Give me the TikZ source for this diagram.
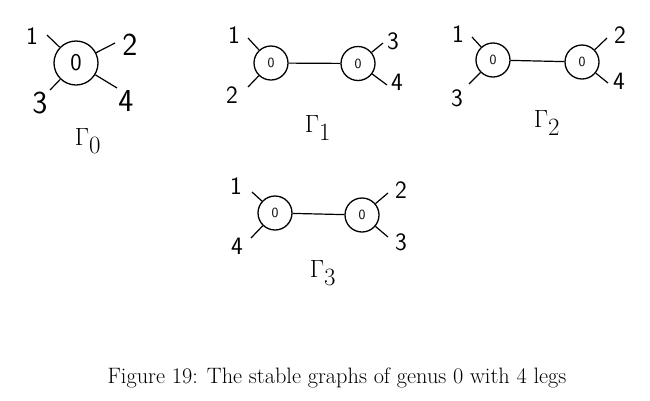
\documentclass[tikz,border=0pt]{standalone}
\usepackage{fontspec}
\begin{document}
\begin{tikzpicture}[x=1pt,y=-1pt,
  vtx/.style={draw,circle,line width=1.3pt,inner sep=0pt,minimum size=34pt,font=\sffamily\fontsize{14}{14}\selectfont},
  bigvtx/.style={vtx,minimum size=44pt,font=\sffamily\fontsize{24}{24}\selectfont},
  leg/.style={line width=1.2pt},
  lab/.style={font=\sffamily\fontsize{25}{25}\selectfont,inner sep=0pt},
  biglab/.style={font=\sffamily\fontsize{32}{32}\selectfont,inner sep=0pt},
  gam/.style={font=\fontsize{34}{34}\selectfont,inner sep=0pt}]
\useasboundingbox (0,0) rectangle (650,400);
% Gamma_0
\node[bigvtx] (g0) at (76,63) {0};
\coordinate (g0a) at (47,35); \coordinate (g0b) at (115,43);
\coordinate (g0c) at (50,90); \coordinate (g0d) at (117,88);
\draw[leg] (g0) -- (g0a); \draw[leg] (g0) -- (g0b);
\draw[leg] (g0) -- (g0c); \draw[leg] (g0) -- (g0d);
\node[lab] (g0l1) at (32,36) {1};
\node[biglab] (g0l2) at (130,45) {2};
\node[biglab] (g0l3) at (40,103) {3};
\node[biglab] (g0l4) at (126,101) {4};
\node[gam] (G0) at (88,141) {$\Gamma_0$};
% Gamma_1
\node[vtx] (g1a) at (271,63) {0};
\node[vtx] (g1b) at (358,63.5) {0};
\draw[leg] (g1a) -- (g1b);
\coordinate (g1e1) at (248,38); \coordinate (g1e2) at (248,87);
\coordinate (g1e3) at (383,43); \coordinate (g1e4) at (387,85);
\draw[leg] (g1a) -- (g1e1); \draw[leg] (g1a) -- (g1e2);
\draw[leg] (g1b) -- (g1e3); \draw[leg] (g1b) -- (g1e4);
\node[lab] (g1l1) at (234,35) {1};
\node[lab] (g1l2) at (232,95) {2};
\node[lab] (g1l3) at (393,41) {3};
\node[lab] (g1l4) at (397,82) {4};
\node[gam] (G1) at (318,128) {$\Gamma_1$};
% Gamma_2
\node[vtx] (g2a) at (493,60) {0};
\node[vtx] (g2b) at (582,62) {0};
\draw[leg] (g2a) -- (g2b);
\coordinate (g2e1) at (472,37); \coordinate (g2e3) at (469,84);
\coordinate (g2e2) at (607,38); \coordinate (g2e4) at (608,83);
\draw[leg] (g2a) -- (g2e1); \draw[leg] (g2a) -- (g2e3);
\draw[leg] (g2b) -- (g2e2); \draw[leg] (g2b) -- (g2e4);
\node[lab] (g2l1) at (458,34) {1};
\node[lab] (g2l3) at (457,98) {3};
\node[lab] (g2l2) at (620,35) {2};
\node[lab] (g2l4) at (619,81) {4};
\node[gam] (G2) at (547,123) {$\Gamma_2$};
% Gamma_3
\node[vtx] (g3a) at (275,213) {0};
\node[vtx] (g3b) at (362,215) {0};
\draw[leg] (g3a) -- (g3b);
\coordinate (g3e1) at (252,192); \coordinate (g3e4) at (251,238);
\coordinate (g3e2) at (388,193); \coordinate (g3e3) at (388,237);
\draw[leg] (g3a) -- (g3e1); \draw[leg] (g3a) -- (g3e4);
\draw[leg] (g3b) -- (g3e2); \draw[leg] (g3b) -- (g3e3);
\node[lab] (g3l1) at (236,186) {1};
\node[lab] (g3l4) at (237,246) {4};
\node[lab] (g3l2) at (401,190) {2};
\node[lab] (g3l3) at (401,242) {3};
\node[gam] (G3) at (323,273) {$\Gamma_3$};
% caption
\node[font=\fontsize{22.3}{26}\selectfont,inner sep=0pt] (cap) at (337,378) {Figure 19: The stable graphs of genus 0 with 4 legs};
\end{tikzpicture}
\end{document}
